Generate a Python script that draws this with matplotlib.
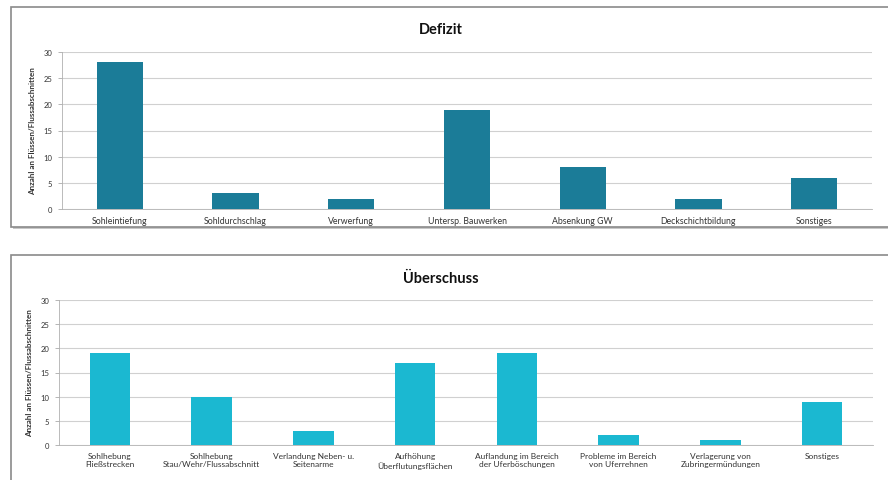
import matplotlib
matplotlib.use("Agg")
import matplotlib.pyplot as plt
from matplotlib.patches import Rectangle

plt.rcParams['font.family'] = ['Lato', 'DejaVu Sans']

defizit_cats = ["Sohleintiefung", "Sohldurchschlag", "Verwerfung", "Untersp. Bauwerken",
                "Absenkung GW", "Deckschichtbildung", "Sonstiges"]
defizit_vals = [28, 3, 2, 19, 8, 2, 6]

ueber_cats = ["Sohlhebung\nFließstrecken", "Sohlhebung\nStau/Wehr/Flussabschnitt",
              "Verlandung Neben- u.\nSeitenarme", "Aufhöhung\nÜberflutungsflächen",
              "Auflandung im Bereich\nder Uferböschungen", "Probleme im Bereich\nvon Uferrehnen",
              "Verlagerung von\nZubringermündungen", "Sonstiges"]
ueber_vals = [19, 10, 3, 17, 19, 2, 1, 9]

yticks = [0, 5, 10, 15, 20, 25, 30]
ylabel = "Anzahl an Flüssen/Flussabschnitten"

W, H = 888, 481
fig = plt.figure(figsize=(W/100, H/100), dpi=100)
fig.patch.set_facecolor('white')

def frame(x0, y0, x1, y1):
    fig.patches.append(Rectangle((x0/W + 1.5/W, 1 - y1/H - 1.5/H), (x1-x0)/W, (y1-y0)/H,
                                 transform=fig.transFigure, facecolor='#c8c8c8',
                                 edgecolor='none', zorder=-3))
    fig.patches.append(Rectangle((x0/W, 1 - y1/H), (x1-x0)/W, (y1-y0)/H,
                                 transform=fig.transFigure, facecolor='white',
                                 edgecolor='#8a8a8a', linewidth=1.2, zorder=-2))

def panel(ax_box, cats, vals, color, title, title_y, bar_w, xfs):
    x0, y0, x1, y1 = ax_box
    ax = fig.add_axes([x0/W, 1 - y1/H, (x1-x0)/W, (y1-y0)/H])
    ax.set_facecolor('none')
    pos = list(range(len(cats)))
    ax.bar(pos, vals, width=bar_w, color=color, zorder=3)
    ax.set_xlim(-0.5, len(cats) - 0.5)
    ax.set_ylim(0, 30)
    ax.set_yticks(yticks)
    ax.set_yticklabels([str(t) for t in yticks], fontsize=5.5, color='#333333')
    ax.set_xticks(pos)
    ax.set_xticklabels(cats, fontsize=xfs, color='#333333', linespacing=1.25)
    ax.tick_params(axis='x', length=0, pad=5)
    ax.tick_params(axis='y', length=3, width=0.6, color='#aaaaaa', pad=4)
    ax.grid(axis='y', color='#d0d0d0', linewidth=0.8, zorder=0)
    for s in ['top', 'right']:
        ax.spines[s].set_visible(False)
    ax.spines['left'].set_color('#b0b0b0')
    ax.spines['bottom'].set_color('#b0b0b0')
    ax.spines['left'].set_linewidth(0.6)
    ax.spines['bottom'].set_linewidth(0.6)
    ax.set_ylabel(ylabel, fontsize=5.8, fontweight='bold', color='#333333', labelpad=5)
    fig.text(441/W, 1 - title_y/H, title, fontsize=10.5, fontweight='bold',
             ha='center', va='center', color='#111111')
    return ax

frame(11, 8, 893, 228)
frame(11, 256, 893, 487)

panel((62, 53, 872, 210), defizit_cats, defizit_vals, '#1b7c98', 'Defizit', 30, 0.4, 6.3)
panel((59, 301, 873, 446), ueber_cats, ueber_vals, '#1bb8d1', 'Überschuss', 279, 0.4, 6.0)

fig.savefig('out.png', dpi=100)
